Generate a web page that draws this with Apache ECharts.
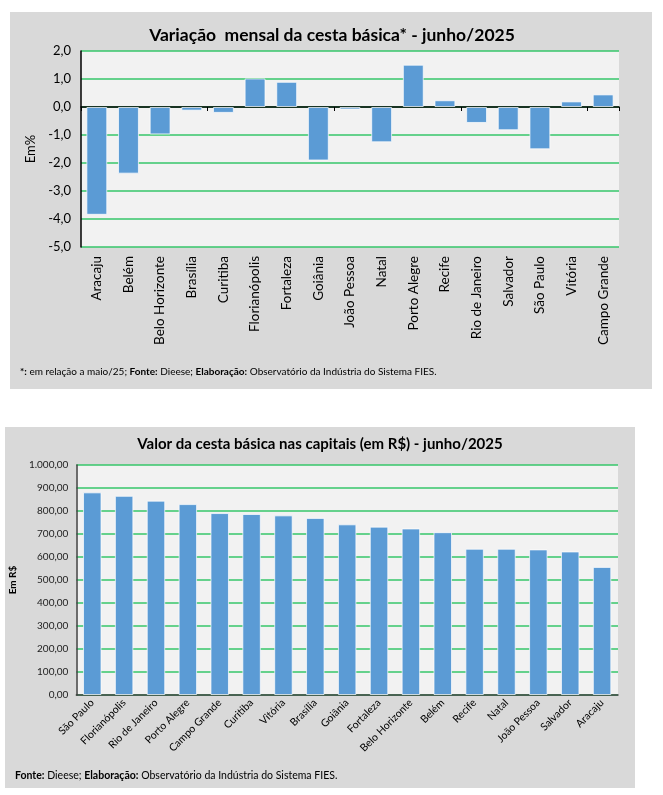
<!DOCTYPE html>
<html><head><meta charset="utf-8">
<script src="https://cdn.jsdelivr.net/npm/echarts@6/dist/echarts.min.js"></script>
<style>html,body{margin:0;padding:0;background:#fff}#c{width:663px;height:795px}</style>
</head><body><div id="c"></div>
<script>
// Chart 1: monthly variation (%)
const varCities = ['Aracaju','Belém','Belo Horizonte','Brasília','Curitiba','Florianópolis','Fortaleza','Goiânia','João Pessoa','Natal','Porto Alegre','Recife','Rio de Janeiro','Salvador','São Paulo','Vitória','Campo Grande'];
const varValues = [-3.85,-2.38,-0.98,-0.13,-0.21,1.02,0.90,-1.91,-0.09,-1.26,1.51,0.24,-0.57,-0.83,-1.51,0.20,0.45];
// Chart 2: basket value (R$)
const valCities = ['São Paulo','Florianópolis','Rio de Janeiro','Porto Alegre','Campo Grande','Curitiba','Vitória','Brasília','Goiânia','Fortaleza','Belo Horizonte','Belém','Recife','Natal','João Pessoa','Salvador','Aracaju'];
const valValues = [881,866,845,830,791,787,781,770,742,732,724,708,636,636,633,624,557];

const title1 = 'Variação  mensal da cesta básica* - junho/2025';
const title2 = 'Valor da cesta básica nas capitais (em R$) - junho/2025';

const FONT = 'Lato';
const GREEN = '#36c66a';
const BAR = '#5b9bd5';

function fmt1(v){ return v.toFixed(1).replace('.', ','); }
function fmt2(v){
  const s = v.toFixed(2).split('.');
  const int = s[0].replace(/\B(?=(\d{3})+(?!\d))/g, '.');
  return int + ',' + s[1];
}

const chart = echarts.init(document.getElementById('c'), null, {renderer:'canvas'});
chart.setOption({
  animation: false,
  textStyle: {fontFamily: FONT},
  graphic: [
    {type:'rect', z:-10, shape:{x:10, y:12, width:642, height:377}, style:{fill:'#d9d9d9'}},
    {type:'rect', z:-10, shape:{x:5, y:427, width:630, height:361}, style:{fill:'#d9d9d9'}},
    {type:'text', x:332, y:35, style:{text:title1, font:'bold 17.5px '+FONT, fill:'#000', align:'center', verticalAlign:'middle'}},
    {type:'text', x:320, y:444, style:{text:title2, font:'bold 15px '+FONT, fill:'#000', align:'center', verticalAlign:'middle'}},
    {type:'text', x:20, y:372, style:{
      text:'{b|*:} em relação a maio/25; {b|Fonte:} Dieese; {b|Elaboração:} Observatório da Indústria do Sistema FIES.',
      font:'10px '+FONT, fill:'#000', verticalAlign:'middle',
      rich:{b:{fontWeight:'bold', fontSize:10, fontFamily:FONT, fill:'#000'}}}},
    {type:'text', x:15, y:776, style:{
      text:'{b|Fonte:} Dieese; {b|Elaboração:} Observatório da Indústria do Sistema FIES.',
      font:'10.5px '+FONT, fill:'#000', verticalAlign:'middle',
      rich:{b:{fontWeight:'bold', fontSize:10.5, fontFamily:FONT, fill:'#000'}}}}
  ],
  grid: [
    {left:81, right:663-619, top:51, bottom:795-247, show:true, backgroundColor:'#f2f2f2', borderWidth:0, containLabel:false},
    {left:75, right:663-618, top:465, bottom:795-695, show:true, backgroundColor:'#f2f2f2', borderWidth:0, containLabel:false}
  ],
  xAxis: [
    {gridIndex:0, type:'category', data:varCities, position:'bottom',
     axisLine:{show:false, onZero:false}, axisTick:{show:false},
     axisLabel:{rotate:90, margin:9, fontSize:13.5, color:'#000', fontFamily:FONT, interval:0}},
    {gridIndex:0, type:'category', data:varCities, position:'bottom',
     axisLine:{show:true, onZero:true, lineStyle:{color:'#000', width:1.5}},
     axisTick:{show:true, length:4, lineStyle:{color:'#000', width:1}},
     axisLabel:{show:false}},
    {gridIndex:1, type:'category', data:valCities, position:'bottom',
     axisLine:{show:true, onZero:false, lineStyle:{color:'#404040', width:1.5}},
     axisTick:{show:false},
     axisLabel:{rotate:45, margin:6, fontSize:10.5, color:'#000', fontFamily:FONT, interval:0}}
  ],
  yAxis: [
    {gridIndex:0, type:'value', min:-5, max:2, interval:1,
     name:'Em%', nameLocation:'middle', nameRotate:90, nameGap:43,
     nameTextStyle:{fontSize:13, color:'#000', fontFamily:FONT},
     axisLine:{show:true, lineStyle:{color:'#000', width:1.5}}, axisTick:{show:false},
     axisLabel:{formatter:fmt1, fontSize:13, color:'#000', margin:10, fontFamily:FONT},
     splitLine:{show:true, lineStyle:{color:GREEN, width:1.5}}},
    {gridIndex:1, type:'value', min:0, max:1000, interval:100,
     name:'Em R$', nameLocation:'middle', nameRotate:90, nameGap:51,
     nameTextStyle:{fontSize:10, color:'#000', fontFamily:FONT, fontWeight:'bold'},
     axisLine:{show:true, lineStyle:{color:'#404040', width:1.5}}, axisTick:{show:false},
     axisLabel:{formatter:fmt2, fontSize:10, color:'#222', margin:8, fontFamily:FONT},
     splitLine:{show:true, lineStyle:{color:GREEN, width:1.5}}}
  ],
  series: [
    {type:'bar', xAxisIndex:0, yAxisIndex:0, data:varValues, barWidth:'66%',
     itemStyle:{color:BAR, borderColor:'rgba(255,255,255,0.7)', borderWidth:1}},
    {type:'bar', xAxisIndex:2, yAxisIndex:1, data:valValues, barWidth:'58%',
     itemStyle:{color:BAR, borderColor:'rgba(255,255,255,0.7)', borderWidth:1}}
  ]
});
</script>
</body></html>
